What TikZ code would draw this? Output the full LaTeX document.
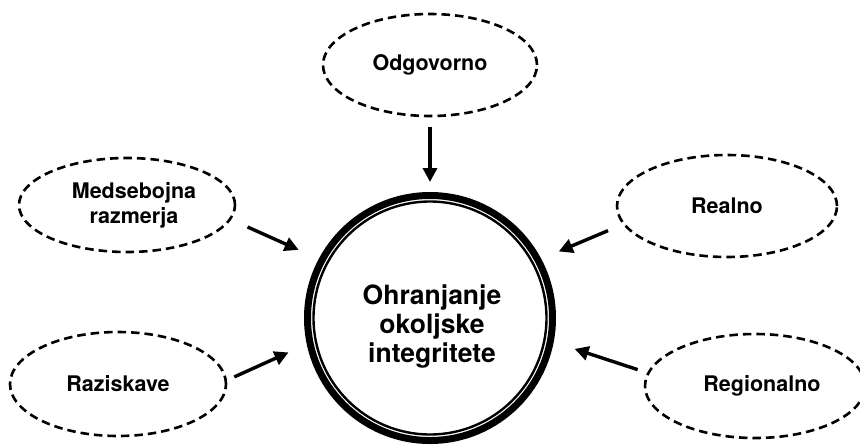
\documentclass[tikz,border=0pt]{standalone}
\usepackage{fontspec}
\setmainfont{TeX Gyre Heros}
\usetikzlibrary{shapes.geometric,arrows.meta}
\tikzset{
  oval/.style={ellipse, draw, line width=2.6pt, dash pattern=on 8.5pt off 5pt, inner sep=0pt,
    font=\bfseries\fontsize{21.5}{25}\selectfont, align=center},
  arr/.style={line width=3.4pt, -{Triangle[length=14pt,width=14pt]}},
}
\begin{document}
\begin{tikzpicture}[x=1pt,y=-1pt]
\useasboundingbox (0,0) rectangle (860,445);
% central circle
\node[circle, draw, line width=7pt, minimum size=245pt, inner sep=0pt] (c) at (430,318) {};
\draw[line width=2.4pt] (c.center) circle (116.5);
\node[font=\bfseries\fontsize{26.5}{29}\selectfont, align=center] (ct) at (432,327) {Ohranjanje\\okoljske\\integritete};
% outer ovals
\node[oval, minimum width=214pt, minimum height=102pt] (odg) at (430,65) {Odgovorno};
\node[oval, minimum width=216pt, minimum height=94pt] (med) at (127,205) {\hspace*{14pt}Medsebojna\\\hspace*{14pt}razmerja};
\node[oval, minimum width=220pt, minimum height=102pt] (rea) at (727,206) {Realno};
\node[oval, minimum width=216pt, minimum height=104pt] (raz) at (118,384) {Raziskave};
\node[oval, minimum width=220pt, minimum height=104pt] (reg) at (755,386) {\hspace*{14pt}Regionalno};
% arrows
\draw[arr, shorten <=10pt, shorten >=10pt] (odg.south) -- (c.north);
\draw[arr, shorten <=18pt, shorten >=22pt] (med.-8) -- (c.152.7);
\draw[arr, shorten <=16pt, shorten >=19pt] (rea.190) -- (c.28);
\draw[arr, shorten <=8pt, shorten >=20pt] (raz.2) -- (c.192.3);
\draw[arr, shorten <=10pt, shorten >=22pt] (reg.173.7) -- (c.-11.7);
\end{tikzpicture}
\end{document}
